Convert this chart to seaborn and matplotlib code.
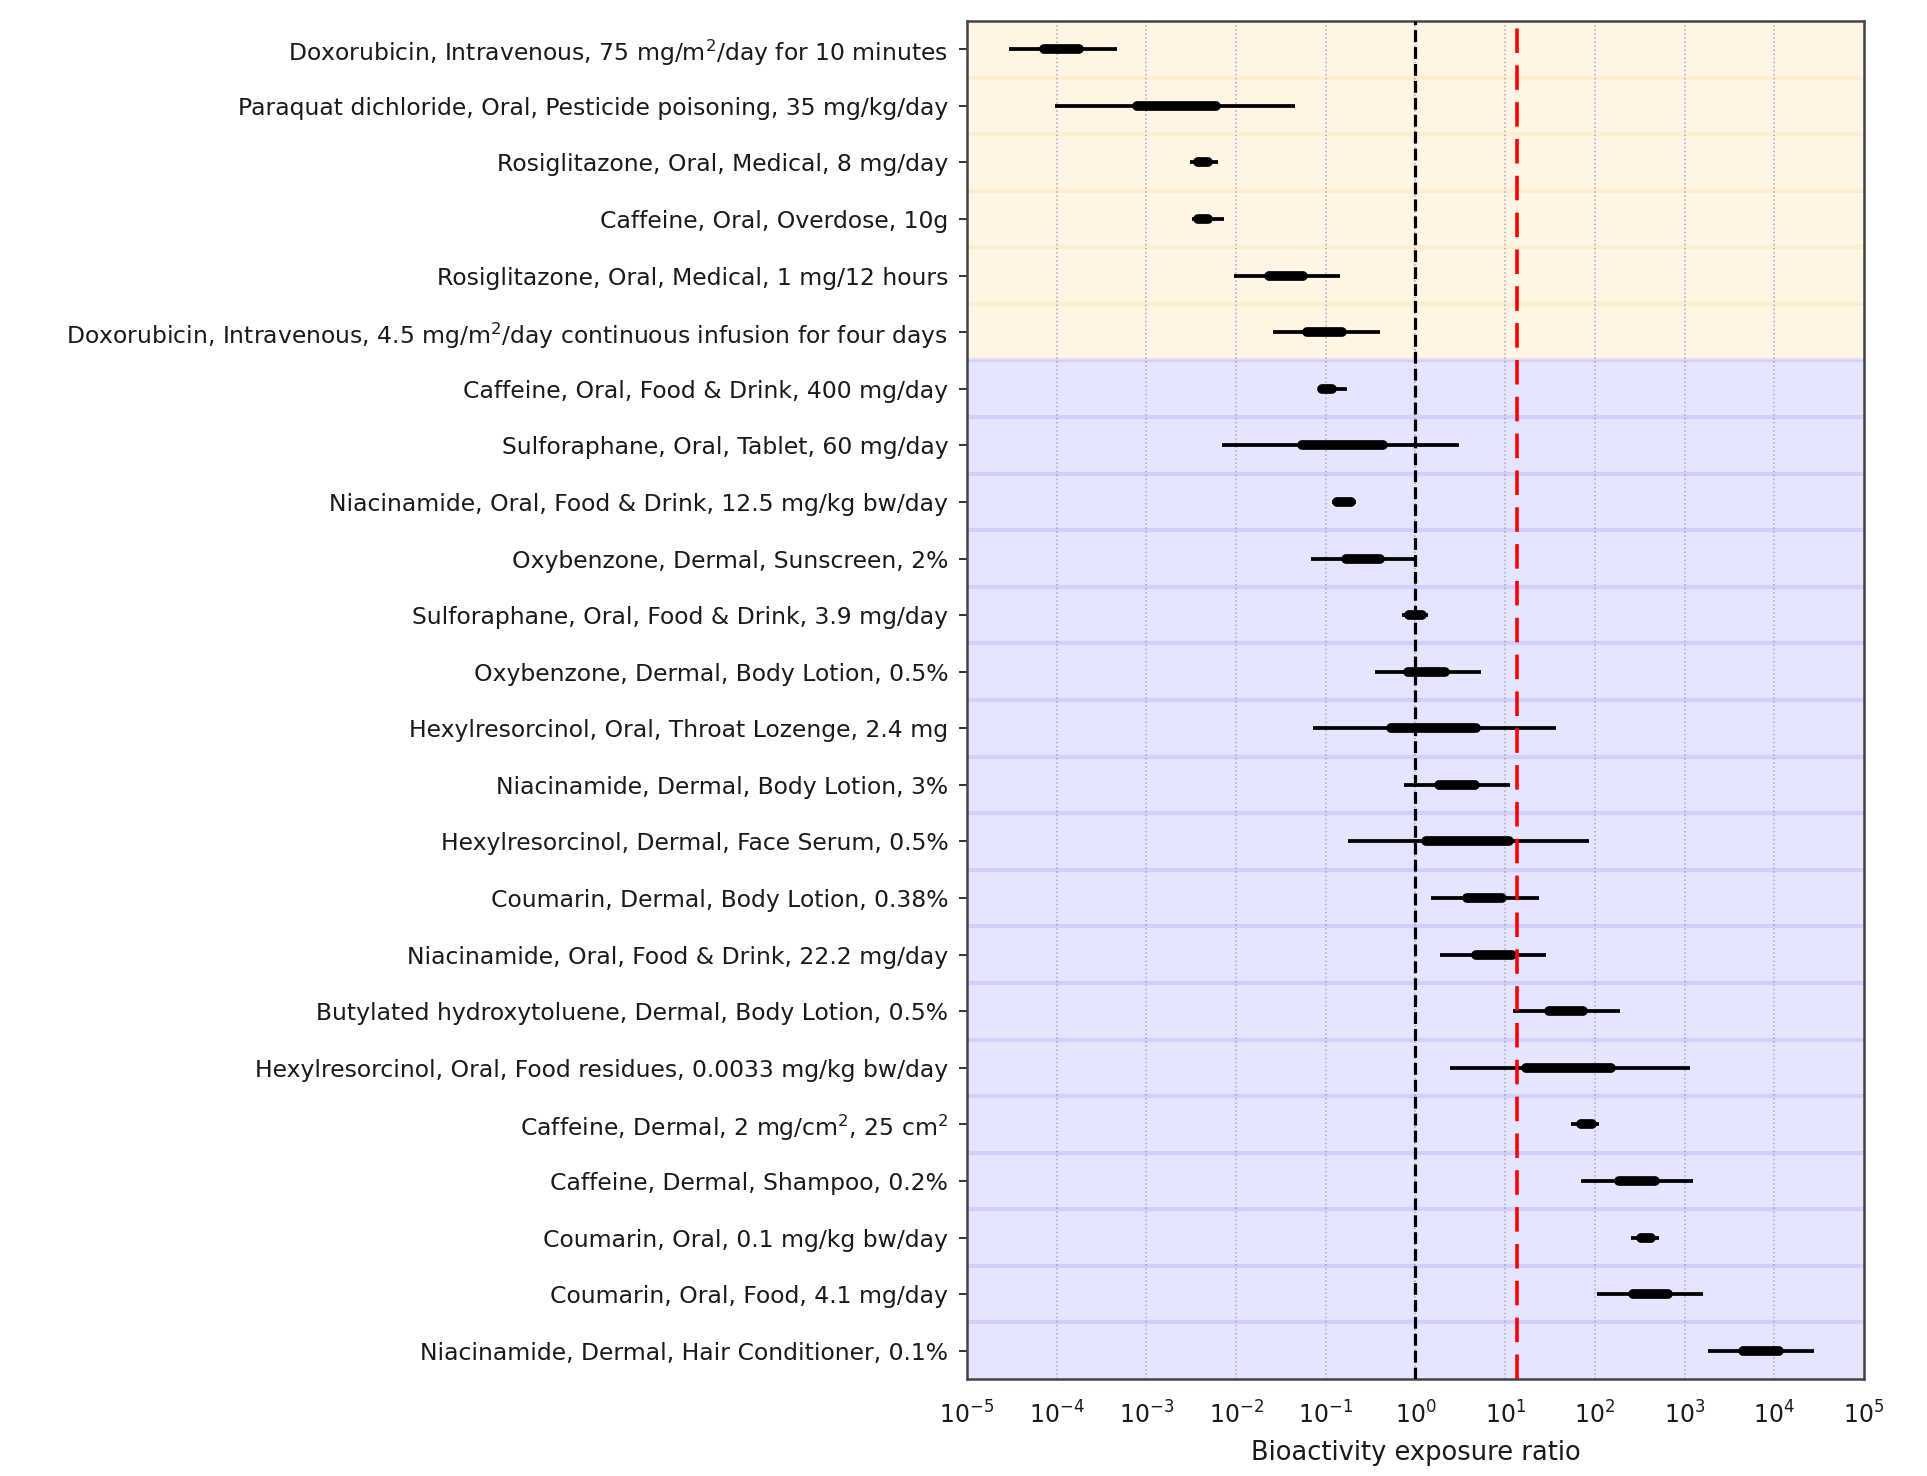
import matplotlib
matplotlib.use("Agg")
import matplotlib.pyplot as plt
from matplotlib import ticker
import numpy as np
import pandas as pd
import seaborn as sns

LABELS = [
    "Doxorubicin, Intravenous, 75 mg/m$^2$/day for 10 minutes",
    "Paraquat dichloride, Oral, Pesticide poisoning, 35 mg/kg/day",
    "Rosiglitazone, Oral, Medical, 8 mg/day",
    "Caffeine, Oral, Overdose, 10g",
    "Rosiglitazone, Oral, Medical, 1 mg/12 hours",
    "Doxorubicin, Intravenous, 4.5 mg/m$^2$/day continuous infusion for four days",
    "Caffeine, Oral, Food & Drink, 400 mg/day",
    "Sulforaphane, Oral, Tablet, 60 mg/day",
    "Niacinamide, Oral, Food & Drink, 12.5 mg/kg bw/day",
    "Oxybenzone, Dermal, Sunscreen, 2%",
    "Sulforaphane, Oral, Food & Drink, 3.9 mg/day",
    "Oxybenzone, Dermal, Body Lotion, 0.5%",
    "Hexylresorcinol, Oral, Throat Lozenge, 2.4 mg",
    "Niacinamide, Dermal, Body Lotion, 3%",
    "Hexylresorcinol, Dermal, Face Serum, 0.5%",
    "Coumarin, Dermal, Body Lotion, 0.38%",
    "Niacinamide, Oral, Food & Drink, 22.2 mg/day",
    "Butylated hydroxytoluene, Dermal, Body Lotion, 0.5%",
    "Hexylresorcinol, Oral, Food residues, 0.0033 mg/kg bw/day",
    "Caffeine, Dermal, 2 mg/cm$^2$, 25 cm$^2$",
    "Caffeine, Dermal, Shampoo, 0.2%",
    "Coumarin, Oral, 0.1 mg/kg bw/day",
    "Coumarin, Oral, Food, 4.1 mg/day",
    "Niacinamide, Dermal, Hair Conditioner, 0.1%",
]

# log10 of bioactivity exposure ratio
FULL_LO = [-4.53, -4.02, -2.51, -2.49, -2.02, -1.59, -1.08, -2.16, -0.93, -1.16, -0.15, -0.45,
           -1.14, -0.13, -0.75, 0.17, 0.27, 1.09, 0.39, 1.73, 1.85, 2.40, 2.02, 3.26]
FULL_HI = [-3.33, -1.34, -2.20, -2.14, -0.84, -0.40, -0.76, 0.49, -0.66, 0.00, 0.14, 0.73,
           1.57, 1.05, 1.93, 1.38, 1.46, 2.28, 3.06, 2.05, 3.09, 2.72, 3.20, 4.44]
IQR_LO = [-4.14, -3.11, -2.42, -2.42, -1.63, -1.21, -1.04, -1.27, -0.87, -0.78, -0.07, -0.08,
          -0.27, 0.26, 0.12, 0.57, 0.68, 1.49, 1.23, 1.84, 2.27, 2.51, 2.42, 3.65]
IQR_HI = [-3.75, -2.22, -2.31, -2.31, -1.25, -0.82, -0.93, -0.36, -0.72, -0.40, 0.07, 0.33,
          0.68, 0.66, 1.04, 0.97, 1.08, 1.87, 2.18, 1.97, 2.67, 2.63, 2.82, 4.05]

N_HIGH = 6           # first rows shaded orange
BER_REF = 1.0
BER_THRESHOLD = 13.4

rows = np.arange(len(LABELS))
full_df = pd.DataFrame({
    "row": np.repeat(rows, 2),
    "ber": 10 ** np.column_stack([FULL_LO, FULL_HI]).ravel(),
})
iqr_df = pd.DataFrame({
    "row": np.repeat(rows, 2),
    "ber": 10 ** np.column_stack([IQR_LO, IQR_HI]).ravel(),
})

sns.set_style("white")
plt.rcParams["font.family"] = ["DejaVu Sans"]

fig, ax = plt.subplots(figsize=(19.27, 14.76), dpi=100)
fig.subplots_adjust(left=0.5018, right=0.9673, top=0.9858, bottom=0.0657)

ax.set_xscale("log")
ax.set_xlim(1e-5, 1e5)
ax.set_ylim(len(LABELS) - 0.5, -0.5)

# row shading
for i in rows:
    col = "orange" if i < N_HIGH else "blue"
    ax.axhspan(i - 0.5, i + 0.5, color=col, alpha=0.1, lw=0, zorder=0.5)
for i in rows[:-1]:
    col = "orange" if i < N_HIGH - 1 else "blue"
    ax.axhline(i + 0.5, color=col, alpha=0.09, lw=3.0, zorder=0.6)

ax.grid(axis="x", which="major", color="0.68", ls=":", lw=1.1, zorder=0.4)
ax.set_axisbelow(True)

sns.lineplot(data=full_df, x="ber", y="row", units="row", estimator=None, sort=False,
             color="black", lw=2.7, ax=ax, legend=False, zorder=3,
             solid_capstyle="butt")
sns.lineplot(data=iqr_df, x="ber", y="row", units="row", estimator=None, sort=False,
             color="black", lw=7.0, ax=ax, legend=False, zorder=4,
             solid_capstyle="round")

ax.axvline(BER_REF, color="black", ls="--", lw=2.3, zorder=5)
ax.axvline(BER_THRESHOLD, color="red", lw=2.6, zorder=5, dashes=(6.8, 3.4))

ax.set_yticks(rows)
ax.set_yticklabels(LABELS, fontsize=16.9, color="#1a1a1a")
ax.xaxis.set_major_locator(ticker.LogLocator(base=10, numticks=20))
ax.xaxis.set_minor_locator(ticker.NullLocator())
ax.tick_params(axis="x", labelsize=17, length=6, width=1.4, color="#333333",
               labelcolor="#1a1a1a", pad=10)
ax.tick_params(axis="y", length=6, width=1.4, color="#333333", left=True, pad=7.5)
ax.set_xlabel("Bioactivity exposure ratio", fontsize=18.5, color="#1a1a1a", labelpad=8)
ax.set_ylabel("")

for spine in ax.spines.values():
    spine.set_visible(True)
    spine.set_color("#444444")
    spine.set_linewidth(1.8)

fig.savefig("out.png", dpi=100)
